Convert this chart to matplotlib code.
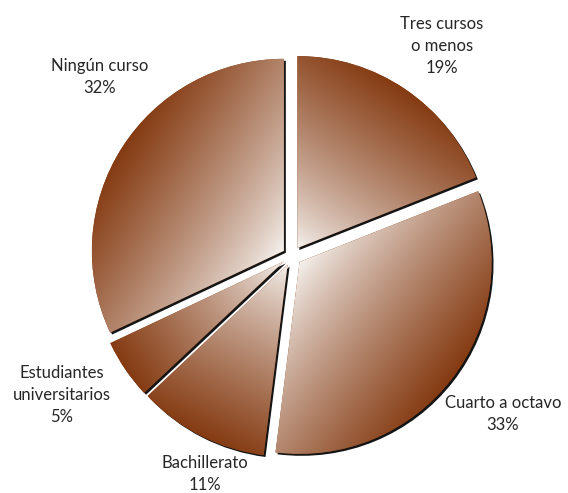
import numpy as np
import matplotlib
matplotlib.use("Agg")
import matplotlib.pyplot as plt
import matplotlib.patheffects as pe

# datos del gráfico
categorias = ["Tres cursos\no menos", "Cuarto a octavo", "Bachillerato",
              "Estudiantes\nuniversitarios", "Ningún curso"]
porcentajes = [19, 33, 11, 5, 32]

plt.rcParams["font.family"] = ["Lato", "DejaVu Sans"]

W, H = 568, 493
fig = plt.figure(figsize=(W / 100, H / 100), dpi=100)
ax = fig.add_axes([0, 0, 1, 1])

marron = np.array([0.52, 0.23, 0.07])
blanco = np.array([0.97, 0.96, 0.95])

wedges, _ = ax.pie(porcentajes, startangle=90, counterclock=False,
                   explode=[0.05] * len(porcentajes), radius=1,
                   colors=[marron] * len(porcentajes),
                   wedgeprops=dict(linewidth=0))

# centro del pastel en pixeles y radio (pie() cambia los limites, se fijan despues)
cx, cy, r_px = 292, 256, 192
ax.set_xlim(-cx / r_px, (W - cx) / r_px)
ax.set_ylim(-(H - cy) / r_px, cy / r_px)
ax.set_aspect("equal")
ax.axis("off")

xmin, xmax = ax.get_xlim()
ymin, ymax = ax.get_ylim()
gx, gy = np.meshgrid(np.linspace(xmin, xmax, 700), np.linspace(ymin, ymax, 600))

for w in wedges:
    w.set_path_effects([pe.SimplePatchShadow(offset=(1.4, -1.4), shadow_rgbFace="#151515", alpha=1.0),
                        pe.Normal()])
    # degradado lineal desde el vértice (claro) hacia el arco (marrón)
    ang = np.deg2rad((w.theta1 + w.theta2) / 2)
    ux, uy = np.cos(ang), np.sin(ang)
    x0, y0 = w.center
    t = ((gx - x0) * ux + (gy - y0) * uy) / w.r
    t = np.clip(t, 0, 1) ** 0.8
    img = blanco[None, None, :] + (marron - blanco)[None, None, :] * t[..., None]
    im = ax.imshow(img, extent=(xmin, xmax, ymin, ymax), origin="lower",
                   interpolation="bilinear", zorder=3)
    im.set_clip_path(w)

# etiquetas
color_txt = "#262626"
etiquetas = [
    (442, 46, f"{categorias[0]}\n{porcentajes[0]}%"),
    (503, 414, f"{categorias[1]}\n{porcentajes[1]}%"),
    (205, 474, f"{categorias[2]}\n{porcentajes[2]}%"),
    (62, 395, f"{categorias[3]}\n{porcentajes[3]}%"),
    (100, 77, f"{categorias[4]}\n{porcentajes[4]}%"),
]
for x, y, s in etiquetas:
    fig.text(x / W, 1 - y / H, s, ha="center", va="center", fontsize=12,
             color=color_txt, linespacing=1.45)

fig.savefig("out.png", dpi=100)
